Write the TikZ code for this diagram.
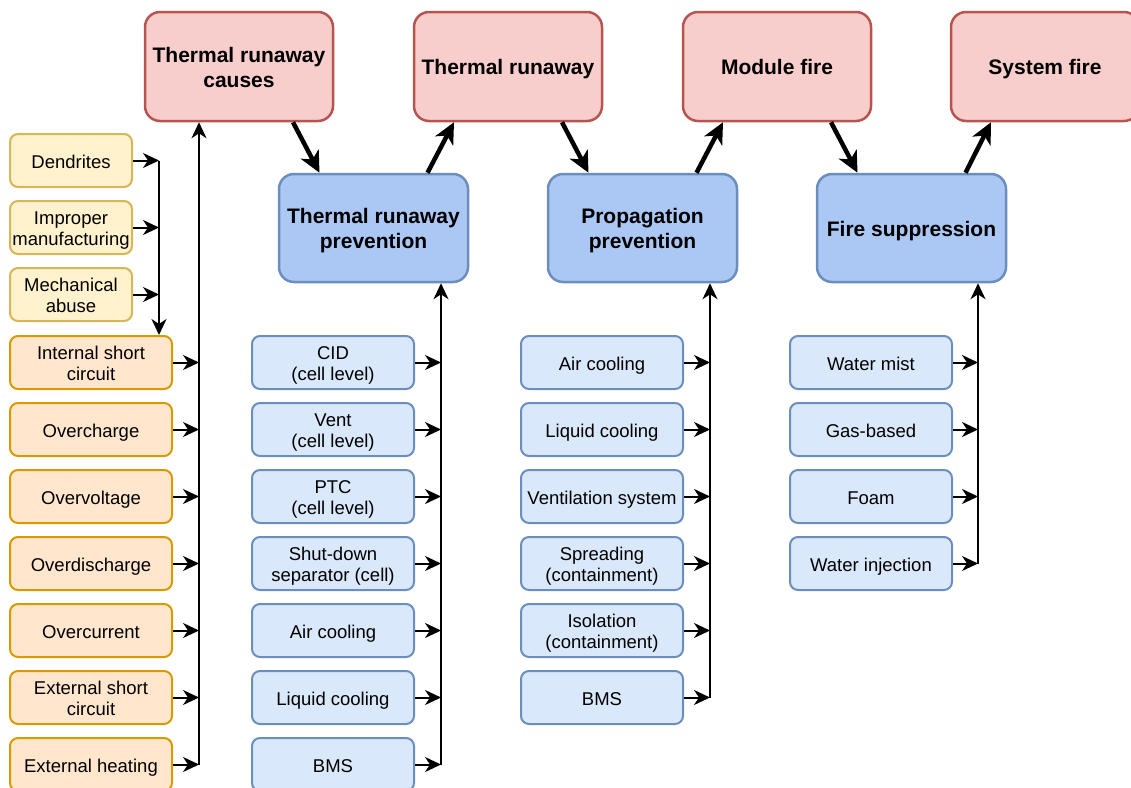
\documentclass[tikz,border=0pt]{standalone}
\usepackage{fontspec}
\setmainfont{Liberation Sans}
\usetikzlibrary{arrows.meta}
\definecolor{redfill}{HTML}{F8CECC}
\definecolor{reddraw}{HTML}{B85450}
\definecolor{bluefill}{HTML}{ABC8F4}
\definecolor{bluelite}{HTML}{DAE8FC}
\definecolor{bluedraw}{HTML}{6C8EBF}
\definecolor{orangefill}{HTML}{FFE6CC}
\definecolor{orangedraw}{HTML}{D79B00}
\definecolor{yellowfill}{HTML}{FFF2CC}
\definecolor{yellowdraw}{HTML}{D6B656}
\tikzstyle{stage}=[rectangle, inner sep=0pt, align=center, rounded corners=15pt,
  draw=reddraw, fill=redfill, line width=2.5pt, minimum width=188pt, minimum height=109pt,
  text height=21pt, text depth=5pt, font=\fontsize{21}{25}\selectfont\bfseries]
\tikzstyle{stage2}=[text height=46.6pt]
\tikzstyle{barrier}=[stage, draw=bluedraw, fill=bluefill, minimum width=189pt, minimum height=108pt]
\tikzstyle{item}=[rectangle, inner sep=0pt, align=center, rounded corners=8pt,
  line width=2pt, minimum height=53pt, text height=19pt, text depth=4pt,
  font=\fontsize{18.5}{21}\selectfont]
\tikzstyle{item2}=[text height=40pt]
\tikzstyle{trigger}=[item, draw=yellowdraw, fill=yellowfill, minimum width=122pt]
\tikzstyle{cause}=[item, draw=orangedraw, fill=orangefill, minimum width=162pt]
\tikzstyle{measure}=[item, draw=bluedraw, fill=bluelite, minimum width=162pt]

\begin{document}
\begin{tikzpicture}[x=1pt, y=-1pt,
    feed/.style={line width=2pt, -{Stealth[length=16pt, width=15pt, inset=5pt]}},
    link/.style={line width=4.5pt, -{Stealth[length=21pt, width=20pt, inset=6pt]}}]

  \clip (0,0) rectangle (1131,787);

  % stages
  \node[stage, stage2] (causes) at (239,66.5) {Thermal runaway\\causes};
  \node[stage] (runaway) at (508,66.5) {Thermal runaway};
  \node[stage] (module) at (777,66.5) {Module fire};
  \node[stage] (system) at (1045,66.5) {System fire};

  % barriers
  \node[barrier, stage2] (tprev) at (373.5,228) {Thermal runaway\\prevention};
  \node[barrier, stage2] (pprev) at (642.5,228) {Propagation\\prevention};
  \node[barrier] (fsupp) at (911.5,228) {Fire suppression};

  \draw[link] ([xshift=54pt]causes.south) -- ([xshift=-54pt]tprev.north);
  \draw[link] ([xshift=54pt]tprev.north) -- ([xshift=-54pt]runaway.south);
  \draw[link] ([xshift=54pt]runaway.south) -- ([xshift=-54pt]pprev.north);
  \draw[link] ([xshift=54pt]pprev.north) -- ([xshift=-54pt]module.south);
  \draw[link] ([xshift=54pt]module.south) -- ([xshift=-54pt]fsupp.north);
  \draw[link] ([xshift=54pt]fsupp.north) -- ([xshift=-54pt]system.south);

  % causes
  \node[trigger] (dend) at (71,160.5) {Dendrites};
  \node[trigger, item2] (manu) at (71,227.5) {Improper\\manufacturing};
  \node[trigger, item2] (mech) at (71,294.5) {Mechanical\\abuse};

  \node[cause, item2] (isc) at (91,362.5) {Internal short\\circuit};
  \node[cause] (ochg) at (91,429.5) {Overcharge};
  \node[cause] (ovol) at (91,496.5) {Overvoltage};
  \node[cause] (odis) at (91,563.5) {Overdischarge};
  \node[cause] (ocur) at (91,630.5) {Overcurrent};
  \node[cause, item2] (esc) at (91,697.5) {External short\\circuit};
  \node[cause] (heat) at (91,764.5) {External heating};

  % thermal runaway prevention
  \node[measure, item2] (cid) at (333,362.5) {CID\\(cell level)};
  \node[measure, item2] (vent) at (333,429.5) {Vent\\(cell level)};
  \node[measure, item2] (ptc) at (333,496.5) {PTC\\(cell level)};
  \node[measure, item2] (sds) at (333,563.5) {Shut-down\\separator (cell)};
  \node[measure] (air) at (333,630.5) {Air cooling};
  \node[measure] (liq) at (333,697.5) {Liquid cooling};
  \node[measure] (bms) at (333,764.5) {BMS};

  % propagation prevention
  \node[measure] (pair) at (602,362.5) {Air cooling};
  \node[measure] (pliq) at (602,429.5) {Liquid cooling};
  \node[measure] (vsys) at (602,496.5) {Ventilation system};
  \node[measure, item2] (spre) at (602,563.5) {Spreading\\(containment)};
  \node[measure, item2] (isol) at (602,630.5) {Isolation\\(containment)};
  \node[measure] (pbms) at (602,697.5) {BMS};

  % fire suppression
  \node[measure] (mist) at (871,362.5) {Water mist};
  \node[measure] (gas) at (871,429.5) {Gas-based};
  \node[measure] (foam) at (871,496.5) {Foam};
  \node[measure] (winj) at (871,563.5) {Water injection};

  \coordinate (busY) at (159,0);
  \coordinate (busA) at (199,0);
  \coordinate (busB) at (441,0);
  \coordinate (busC) at (710,0);
  \coordinate (busD) at (978,0);

  % buses
  \draw[feed] (dend.east -| busY) -- (busY |- isc.north);
  \draw[feed] (heat.east -| busA) -- (busA |- causes.south);
  \draw[feed] (bms.east -| busB) -- (busB |- tprev.south);
  \draw[feed] (pbms.east -| busC) -- (busC |- pprev.south);
  \draw[feed] (winj.east -| busD) -- (busD |- fsupp.south);

  \foreach \p in {dend, manu, mech}
    \draw[feed] (\p.east) -- (\p.east -| busY);
  \foreach \p in {isc, ochg, ovol, odis, ocur, esc, heat}
    \draw[feed] (\p.east) -- (\p.east -| busA);
  \foreach \p in {cid, vent, ptc, sds, air, liq, bms}
    \draw[feed] (\p.east) -- (\p.east -| busB);
  \foreach \p in {pair, pliq, vsys, spre, isol, pbms}
    \draw[feed] (\p.east) -- (\p.east -| busC);
  \foreach \p in {mist, gas, foam, winj}
    \draw[feed] (\p.east) -- (\p.east -| busD);

\end{tikzpicture}
\end{document}
